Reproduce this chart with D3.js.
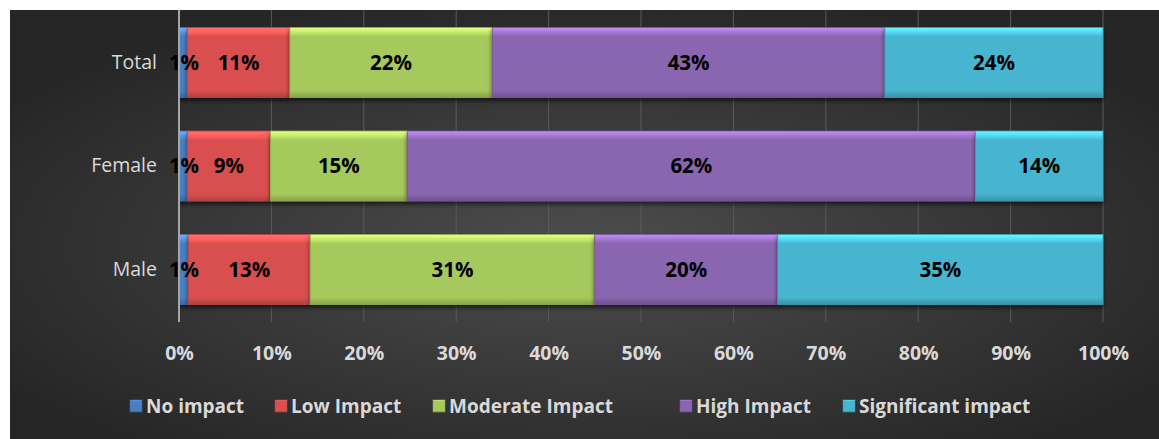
<!DOCTYPE html>
<html><head><meta charset="utf-8">
<script src="https://cdn.jsdelivr.net/npm/d3@7"></script>
<style>body{margin:0;background:#fff;}svg{display:block;}</style>
</head><body>
<svg id="c" width="1159" height="439"></svg>
<script>
const categories = ["Total", "Female", "Male"];
const seriesNames = ["No impact", "Low Impact", "Moderate Impact", "High Impact", "Significant impact"];
const noImpact = [0.9, 0.9, 1.0];
const lowImpact = [11.1, 9.0, 13.2];
const moderateImpact = [21.9, 14.8, 30.8];
const highImpact = [42.5, 61.5, 19.8];
const significantImpact = [23.6, 13.8, 35.2];
const labelValues = [[1,11,22,43,24],[1,9,15,62,14],[1,13,31,20,35]];
const tickValues = [0,0.1,0.2,0.3,0.4,0.5,0.6,0.7,0.8,0.9,1.0];
const colors = ["#4a7fc4", "#d9504f", "#a5c95c", "#8a65b0", "#47b5d0"];

const svg = d3.select("#c");
const defs = svg.append("defs");
const bg = defs.append("radialGradient").attr("id","bg").attr("cx","50%").attr("cy","55%").attr("r","60%");
bg.append("stop").attr("offset","0%").attr("stop-color","#4d4d4d");
bg.append("stop").attr("offset","100%").attr("stop-color","#262626");
svg.append("rect").attr("x",10).attr("y",10).attr("width",1149).attr("height",429).attr("fill","url(#bg)");

colors.forEach((c,i)=>{
  const g = defs.append("linearGradient").attr("id","g"+i).attr("x1",0).attr("y1",0).attr("x2",0).attr("y2",1);
  g.append("stop").attr("offset","0%").attr("stop-color", d3.color(c).brighter(1.0));
  g.append("stop").attr("offset","8%").attr("stop-color", d3.color(c).brighter(0.4));
  g.append("stop").attr("offset","13%").attr("stop-color", c);
  g.append("stop").attr("offset","90%").attr("stop-color", c);
  g.append("stop").attr("offset","100%").attr("stop-color", d3.color(c).darker(0.6));
});
const sh = defs.append("filter").attr("id","sh").attr("x","-5%").attr("y","-20%").attr("width","110%").attr("height","150%");
sh.append("feDropShadow").attr("dx",0).attr("dy",3).attr("stdDeviation",2).attr("flood-color","#000").attr("flood-opacity",0.6);

const x = d3.scaleLinear().domain([0,1]).range([179,1103]);
const y = d3.scaleBand().domain(categories).range([10,322]).paddingInner(0.324).paddingOuter(0.169);

// gridlines
svg.append("g").selectAll("line").data(tickValues.slice(1)).join("line")
  .attr("x1",d=>x(d)).attr("x2",d=>x(d)).attr("y1",10).attr("y2",322)
  .attr("stroke","#5a5a5a").attr("stroke-width",1);

const rows = categories.map((c,i)=>({cat:c, "No impact":noImpact[i], "Low Impact":lowImpact[i], "Moderate Impact":moderateImpact[i], "High Impact":highImpact[i], "Significant impact":significantImpact[i]}));
const stack = d3.stack().keys(seriesNames).offset(d3.stackOffsetExpand)(rows);

const bars = svg.append("g");
stack.forEach((s,si)=>{
  bars.append("g").selectAll("rect").data(s).join("rect")
    .attr("x",d=>x(d[0])).attr("width",d=>x(d[1])-x(d[0]))
    .attr("y",d=>y(d.data.cat)).attr("height",y.bandwidth())
    .attr("fill","url(#g"+si+")").attr("filter","url(#sh)")
    .attr("stroke", d3.color(colors[si]).darker(0.4)).attr("stroke-width",0.8);
});
// labels
stack.forEach((s,si)=>{
  bars.append("g").selectAll("text").data(s).join("text")
    .attr("x",(d,i)=> si===0 ? x(d[0])+5 : (x(d[0])+x(d[1]))/2)
    .attr("y",d=>y(d.data.cat)+y.bandwidth()/2)
    .attr("dy","0.36em").attr("text-anchor","middle")
    .attr("font-family","'Open Sans', sans-serif").attr("font-weight","bold").attr("font-size",20.5)
    .attr("fill","#000")
    .text((d,i)=>labelValues[i][si]+"%");
});

// axis line
svg.append("line").attr("x1",179).attr("x2",179).attr("y1",10).attr("y2",322).attr("stroke","#a6a6a6").attr("stroke-width",2);

// x axis tick labels
const xAxis = d3.axisBottom(x).tickValues(tickValues).tickFormat(d3.format(".0%")).tickSize(0).tickPadding(0);
const xa = svg.append("g").attr("transform","translate(0,346)").call(xAxis);
xa.select(".domain").remove();
xa.selectAll("text").attr("font-family","'Open Sans', sans-serif").attr("font-weight","bold").attr("font-size",19.5).attr("fill","#d9d9d9");

// y axis labels
const yAxis = d3.axisLeft(y).tickSize(0).tickPadding(0);
const ya = svg.append("g").attr("transform","translate(157,0)").call(yAxis);
ya.select(".domain").remove();
ya.selectAll("text").attr("font-family","'Open Sans', sans-serif").attr("font-size",19.5).attr("fill","#d9d9d9");

// legend
const legX = [130, 275, 433, 680, 843];
const leg = svg.append("g");
seriesNames.forEach((n,i)=>{
  leg.append("rect").attr("x",legX[i]).attr("y",400).attr("width",12).attr("height",12).attr("fill","url(#g"+i+")").attr("stroke",d3.color(colors[i]).darker(0.5)).attr("stroke-width",0.6);
  leg.append("text").attr("x",legX[i]+16).attr("y",406).attr("dy","0.36em")
    .attr("font-family","'Open Sans', sans-serif").attr("font-weight","bold").attr("font-size",19).attr("fill","#d9d9d9").text(n);
});
</script>
</body></html>
